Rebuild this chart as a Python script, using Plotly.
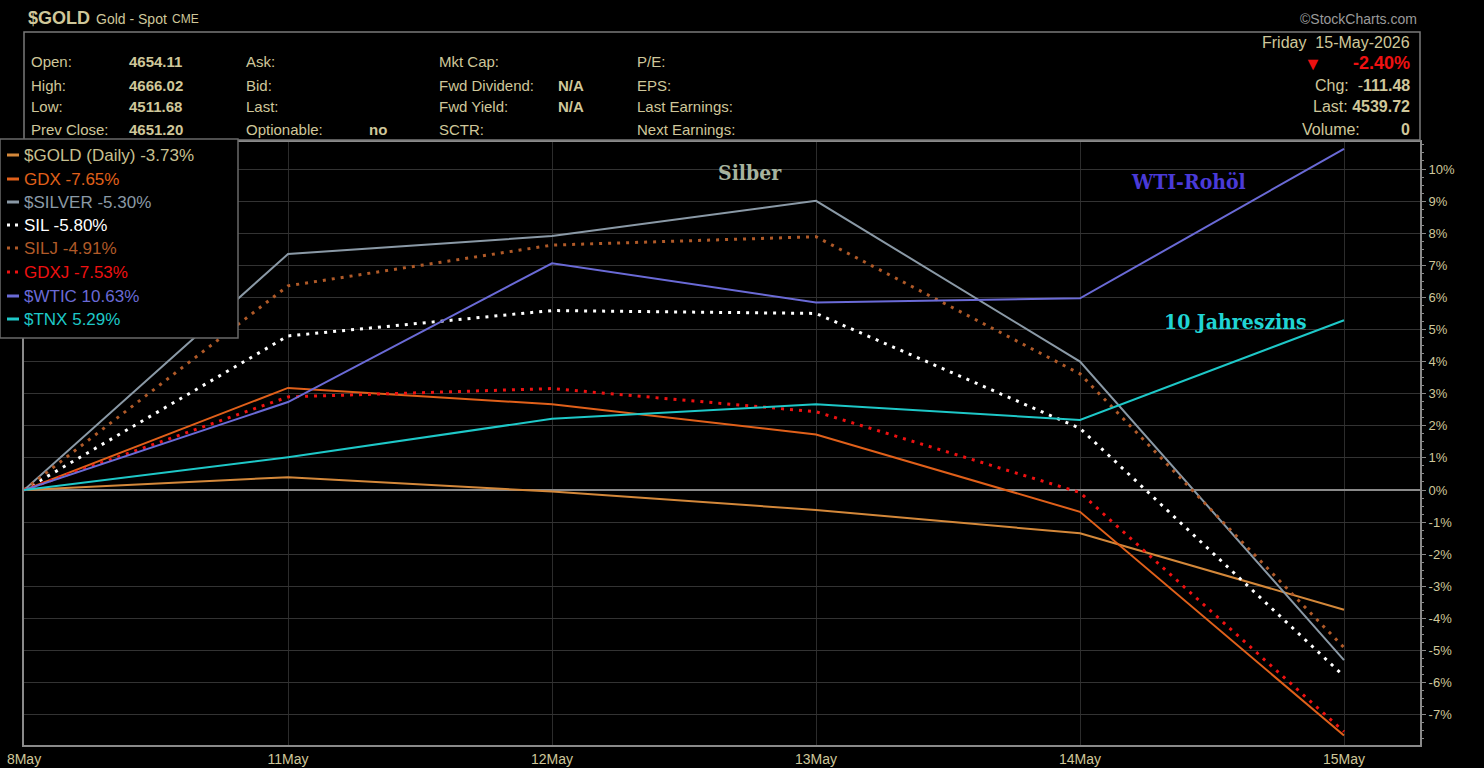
import plotly.graph_objects as go

# data (percent change since 8 May)
dates = ["8May", "11May", "12May", "13May", "14May", "15May"]

gold = [0, 0.40, -0.05, -0.62, -1.35, -3.73]
gdx = [0, 3.18, 2.67, 1.73, -0.68, -7.65]
silver = [0, 7.35, 7.91, 9.01, 4.00, -5.30]
sil = [0, 4.80, 5.59, 5.50, 1.92, -5.80]
silj = [0, 6.36, 7.63, 7.89, 3.62, -4.91]
gdxj = [0, 2.90, 3.16, 2.44, -0.08, -7.53]
wtic = [0, 2.74, 7.06, 5.84, 5.97, 10.63]
tnx = [0, 1.02, 2.22, 2.67, 2.18, 5.29]

names = ["$GOLD (Daily)", "GDX", "$SILVER", "SIL", "SILJ", "GDXJ", "$WTIC", "$TNX"]
series = [gold, gdx, silver, sil, silj, gdxj, wtic, tnx]
colors = ["#d4883a", "#e0601a", "#8a99a6", "#ffffff", "#b05a28", "#ee1111", "#6a6ad6", "#1ec8c8"]
label_colors = ["#c8c090", "#e0601a", "#8a99a6", "#ffffff", "#b05a28", "#ee1111", "#6a6ad6", "#1ec8c8"]
dashes = ["solid", "solid", "solid", "dot", "dot", "dot", "solid", "solid"]

y_ticks = list(range(-7, 11))
y_labels = [f"{v}%" for v in y_ticks]

header_left = [("Open:", "4654.11"), ("High:", "4666.02"), ("Low:", "4511.68"), ("Prev Close:", "4651.20")]
header_mid = [("Ask:", ""), ("Bid:", ""), ("Last:", ""), ("Optionable:", "no")]
header_mid2 = [("Mkt Cap:", ""), ("Fwd Dividend:", "N/A"), ("Fwd Yield:", "N/A"), ("SCTR:", "")]
header_right = ["P/E:", "EPS:", "Last Earnings:", "Next Earnings:"]

W, H = 1484, 768
L, R, T, B = 24, 1420, 142, 745
TAN = "#cfc79a"
FONT = "Liberation Sans Narrow, Liberation Sans"

x = list(range(len(dates)))


def px(xp, yp):
    # pixel position -> paper coords
    return (xp - L) / (R - L), (B - yp) / (B - T)


fig = go.Figure()

for name, vals, c, d in zip(names, series, colors, dashes):
    if d == "dot":
        line = dict(color=c, width=3, dash="3px,6px")
    else:
        line = dict(color=c, width=2)
    fig.add_trace(go.Scatter(x=x, y=vals, mode="lines", name=name, line=line, showlegend=False))

ann = []
shapes = []


def text(xp, yp, s, color=TAN, size=15, anchor="left", bold=False, family="Liberation Sans"):
    xx, yy = px(xp, yp)
    if bold:
        s = f"<b>{s}</b>"
    ann.append(dict(x=xx, y=yy, xref="paper", yref="paper", text=s, showarrow=False,
                    xanchor=anchor, yanchor="middle", font=dict(color=color, size=size, family=family)))


# title line
text(26, 18, "$GOLD", color=TAN, size=18, bold=True)
text(94, 19, "Gold - Spot", color=TAN, size=14)
text(170, 19, "CME", color=TAN, size=12)
text(1419, 19, "©StockCharts.com", color="#9a9a9a", size=14, anchor="right")

# header box
x0, y0 = px(24, 32)
x1, y1 = px(1420, 140)
shapes.append(dict(type="rect", xref="paper", yref="paper", x0=x0, y0=y1, x1=x1, y1=y0,
                   line=dict(color="#7a7a7a", width=1.5)))

rows_y = [62, 85, 107, 129]
for (k, v), yy in zip(header_left, rows_y):
    text(29, yy, k)
    text(127, yy, v, bold=True)
for (k, v), yy in zip(header_mid, rows_y):
    text(244, yy, k)
    if v:
        text(367, yy, v, bold=True)
for (k, v), yy in zip(header_mid2, rows_y):
    text(437, yy, k)
    if v:
        text(556, yy, v, bold=True)
for k, yy in zip(header_right, rows_y):
    text(635, yy, k)

text(1412, 42, "Friday  15-May-2026", anchor="right", size=16)
text(1412, 63, "-2.40%", color="#ee1111", anchor="right", size=18, bold=True)
text(1313, 64, "▼", color="#ee1111", anchor="center", size=18)
text(1412, 85, "Chg:  -<b>111.48</b>", anchor="right", size=16)
text(1412, 107, "Last: <b>4539.72</b>", anchor="right", size=16)
text(1300, 129, "Volume:", anchor="left", size=16)
text(1412, 129, "<b>0</b>", anchor="right", size=16)

# legend box (drawn by hand so every entry gets its own colour)
x0, y0 = px(0, 139)
x1, y1 = px(238, 338)
shapes.append(dict(type="rect", xref="paper", yref="paper", x0=x0, y0=y1, x1=x1, y1=y0,
                   fillcolor="#000000", line=dict(color="#6a6a6a", width=1.5), layer="above"))
leg_y = [155, 179, 202, 225, 248, 272, 296, 319]
for name, vals, c, lc, d, yy in zip(names, series, colors, label_colors, dashes, leg_y):
    sx0, sy = px(7, yy)
    sx1, _ = px(19, yy)
    shapes.append(dict(type="line", xref="paper", yref="paper", x0=sx0, x1=sx1, y0=sy, y1=sy,
                       line=dict(color=c, width=3, dash="3px,5px" if d == "dot" else "solid"), layer="above"))
    text(22, yy, f"{name} {vals[-1]:.2f}%", color=lc, size=17, family=FONT)

# labels placed on the chart
serif = "DejaVu Serif Condensed, Liberation Serif"
text(750, 172, "Silber", color="#a6b39e", size=21, anchor="center", bold=True, family=serif)
text(1188, 181, "WTI-Rohöl", color="#4a3ad8", size=21, anchor="center", bold=True, family=serif)
text(1235, 321, "10 Jahreszins", color="#20d4d4", size=21, anchor="center", bold=True, family=serif)

fig.update_layout(
    width=W, height=H,
    margin=dict(l=L, r=W - R, t=T, b=H - B, autoexpand=False),
    paper_bgcolor="#000000", plot_bgcolor="#000000",
    annotations=ann, shapes=shapes,
    font=dict(family=FONT, color=TAN, size=12),
)
fig.update_xaxes(
    range=[0, (R - L) / 264], tickvals=x, ticktext=dates,
    showgrid=True, gridcolor="#2c2c2c", gridwidth=1,
    showline=True, linecolor="#8a8a8a", linewidth=2, mirror=True,
    ticks="", zeroline=False, automargin=False,
    tickfont=dict(family=FONT, size=14, color=TAN),
)
fig.update_yaxes(
    side="right", range=[(B - 490) / -32.1, (490 - T) / 32.1],
    tickvals=y_ticks, ticktext=y_labels,
    showgrid=True, gridcolor="#333333", gridwidth=1,
    zeroline=True, zerolinecolor="#8a8a8a", zerolinewidth=1.5,
    showline=True, linecolor="#8a8a8a", linewidth=2, mirror=True,
    ticks="outside", ticklen=4, tickcolor="#8a8a8a", automargin=False,
    minor=dict(ticks="outside", ticklen=2, tickcolor="#8a8a8a", dtick=0.25),
    tickfont=dict(family="Liberation Sans", size=13, color=TAN),
)

fig.write_html("out.html", config={"displayModeBar": False},
               post_script="document.body.style.margin='0';document.body.style.background='#000';")
